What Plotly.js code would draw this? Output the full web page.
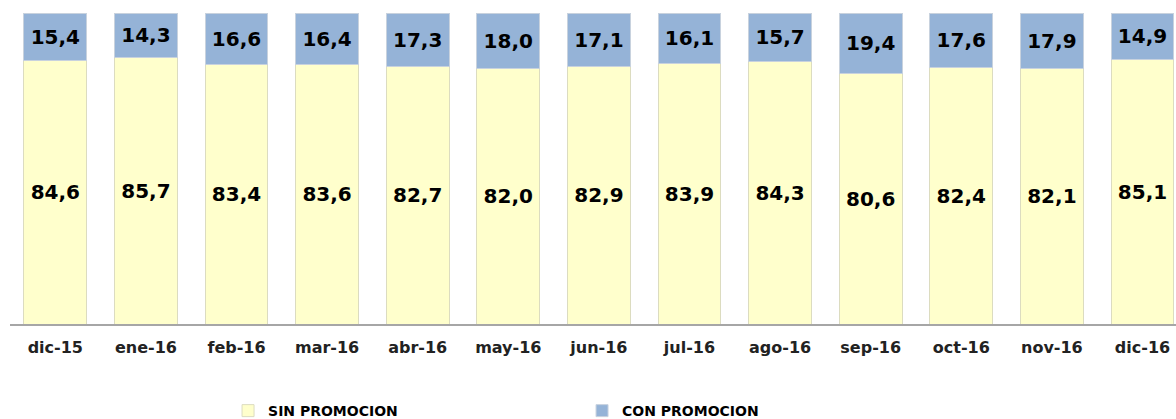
<!DOCTYPE html>
<html>
<head>
<meta charset="utf-8">
<script src="https://cdn.plot.ly/plotly-3.0.1.min.js"></script>
<style>
  html, body { margin: 0; padding: 0; background: #ffffff; }
  #chart { width: 1176px; height: 419px; }
</style>
</head>
<body>
<div id="chart"></div>
<script>
const months = ["dic-15", "ene-16", "feb-16", "mar-16", "abr-16", "may-16", "jun-16",
                "jul-16", "ago-16", "sep-16", "oct-16", "nov-16", "dic-16"];
const sinPromocion = [84.6, 85.7, 83.4, 83.6, 82.7, 82.0, 82.9, 83.9, 84.3, 80.6, 82.4, 82.1, 85.1];
const conPromocion = [15.4, 14.3, 16.6, 16.4, 17.3, 18.0, 17.1, 16.1, 15.7, 19.4, 17.6, 17.9, 14.9];

const labelFont = { family: "DejaVu Sans", size: 20, color: "#000000", weight: "bold" };

const traces = [
  {
    type: "bar",
    name: "SIN PROMOCION",
    x: months,
    y: sinPromocion,
    marker: { color: "#FFFFCC", line: { color: "#dcdcc0", width: 1 } },
    texttemplate: "<b>%{y:.1f}</b>",
    textposition: "inside",
    insidetextanchor: "middle",
    textangle: 0,
    constraintext: "none",
    textfont: labelFont,
    hoverinfo: "skip"
  },
  {
    type: "bar",
    name: "CON PROMOCION",
    x: months,
    y: conPromocion,
    marker: { color: "#95B3D7", line: { color: "#c8d2de", width: 1 } },
    texttemplate: "<b>%{y:.1f}</b>",
    textposition: "inside",
    insidetextanchor: "middle",
    textangle: 0,
    constraintext: "none",
    textfont: labelFont,
    hoverinfo: "skip"
  }
];

const layout = {
  width: 1176,
  height: 419,
  margin: { l: 10, r: 0, t: 13, b: 95, pad: 0, autoexpand: false },
  paper_bgcolor: "#ffffff",
  plot_bgcolor: "#ffffff",
  barmode: "stack",
  bargap: 0.305,
  separators: ",.",
  showlegend: true,
  legend: {
    orientation: "h",
    x: 0.187,
    xanchor: "left",
    yref: "container",
    y: 0.019,
    yanchor: "middle",
    entrywidth: 309,
    entrywidthmode: "pixels",
    traceorder: "normal",
    font: { family: "DejaVu Sans", size: 14, color: "#000000", weight: "bold" },
    bgcolor: "rgba(0,0,0,0)"
  },
  xaxis: {
    type: "category",
    range: [-0.5, 12.37],
    showgrid: false,
    zeroline: false,
    showline: true,
    linecolor: "#a6a6a6",
    linewidth: 2,
    ticks: "",
    ticklabelstandoff: 8,
    tickfont: { family: "DejaVu Sans", size: 16, color: "#222222", weight: "bold" },
    fixedrange: true
  },
  yaxis: {
    range: [0, 100],
    visible: false,
    showgrid: false,
    zeroline: false,
    fixedrange: true
  }
};

Plotly.newPlot("chart", traces, layout, { displayModeBar: false, staticPlot: true });
</script>
</body>
</html>
